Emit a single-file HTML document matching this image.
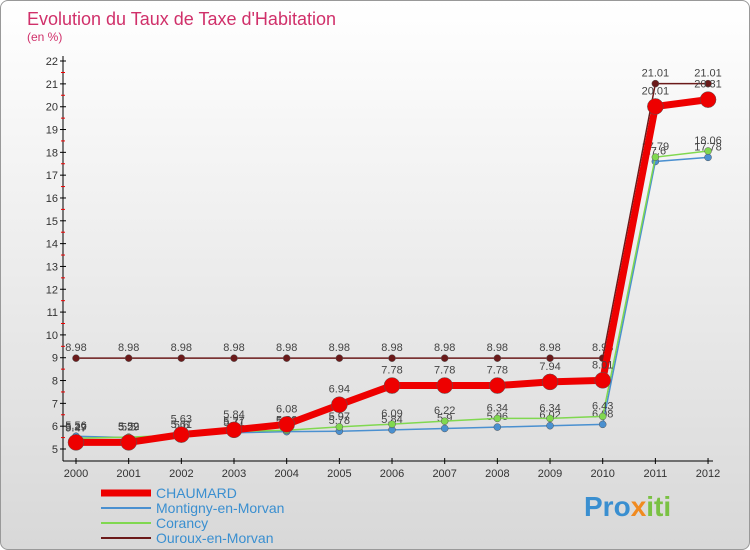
<!DOCTYPE html>
<html><head><meta charset="utf-8"><style>
body{margin:0;width:750px;height:550px;overflow:hidden;font-family:"Liberation Sans",sans-serif}
#wrap{position:absolute;left:0;top:0;width:748px;height:548px;border:1px solid #999;border-radius:8px;background:linear-gradient(#fff,#d8d8d8);overflow:hidden}
</style></head><body>
<div id="wrap">
<svg id="chart" width="750" height="550" style="position:absolute;left:0;top:0">
<text x="26" y="24" font-size="18" fill="#d0306a">Evolution du Taux de Taxe d'Habitation</text>
<text x="26" y="40" font-size="12" fill="#d0306a">(en %)</text>
<g id="axes"></g><g id="series"></g><g id="legend"></g>
<text x="583" y="515" font-size="28" font-weight="bold" fill="#3a8fd0">Pro<tspan fill="#f08a20">x</tspan><tspan fill="#7ac143">iti</tspan></text>
</svg></div>
<script>
const years=[2000,2001,2002,2003,2004,2005,2006,2007,2008,2009,2010,2011,2012];
const yTicks=[5,6,7,8,9,10,11,12,13,14,15,16,17,18,19,20,21,22];
const chaumard=[5.29,5.29,5.63,5.84,6.08,6.94,7.78,7.78,7.78,7.94,8.01,20.01,20.31];
const montigny=[5.56,5.50,5.60,5.71,5.76,5.78,5.84,5.90,5.96,6.02,6.08,17.60,17.78];
const corancy=[5.47,5.52,5.61,5.77,5.82,5.97,6.09,6.22,6.34,6.34,6.43,17.79,18.06];
const ouroux=[8.98,8.98,8.98,8.98,8.98,8.98,8.98,8.98,8.98,8.98,8.98,21.01,21.01];
const names=["CHAUMARD","Montigny-en-Morvan","Corancy","Ouroux-en-Morvan"];
const NS="http://www.w3.org/2000/svg";
const xS=i=>75+i*52.67, yS=v=>448-(v-5)*22.82;
function mk(p,t,a){const e=document.createElementNS(NS,t);for(const k in a)e.setAttribute(k,a[k]);p.appendChild(e);return e;}
const axes=document.getElementById('axes');
let e=mk(axes,'line',{x1:62,y1:55,x2:62,y2:460,stroke:'#000'});


e=mk(axes,'line',{x1:62,y1:460,x2:712,y2:460,stroke:'#000'});


yTicks.forEach(v=>{
 mk(axes,'line',{x1:59,x2:65,y1:yS(v),y2:yS(v),stroke:'#000'});
 if(v<22) mk(axes,'line',{x1:60,x2:64,y1:yS(v+0.5),y2:yS(v+0.5),stroke:'#e00'});
 const t=mk(axes,'text',{x:57,y:yS(v)+4,'font-size':11,'text-anchor':'end',fill:'#333'});
 t.textContent=v;
 
 
});
years.forEach((y,i)=>{
 mk(axes,'line',{x1:xS(i),x2:xS(i),y1:457,y2:463,stroke:'#000'});
 const t=mk(axes,'text',{x:xS(i),y:476,'font-size':11,'text-anchor':'middle',fill:'#333'});
 t.textContent=y;
 
 
});
const sg=document.getElementById('series');
const defs=[[ouroux,'#6b1a1a',1.5,3.5,'ouroux'],[montigny,'#4a90d0',1.5,3.5,'montigny'],[corancy,'#80d850',1.5,3.5,'corancy'],[chaumard,'#ee0000',7,8,'chaumard']];
defs.forEach(([d,c,w,r,n])=>{
 const g=mk(sg,'g',{});
 
 
 const l=mk(g,'polyline',{points:d.map((v,i)=>xS(i)+','+yS(v)).join(' '),fill:'none',stroke:c,'stroke-width':w});
 
 
 d.forEach((v,i)=>{
  const p=mk(g,'circle',{cx:xS(i),cy:yS(v),r:r,fill:c,stroke:'#555','stroke-width':0.5});
  
  
  const t=mk(g,'text',{x:xS(i),y:yS(v)-(n=='chaumard'?12:7),'font-size':11,'text-anchor':'middle',fill:'#444'});
  t.textContent=v.toFixed(2).replace(/0$/,'');
  
  
 });
});
const lg=document.getElementById('legend');
const lc=['#ee0000','#4a90d0','#80d850','#6b1a1a'],lw=[7,2,2,2];
names.forEach((nm,i)=>{
 const g=mk(lg,'g',{});
 
 
 mk(g,'line',{x1:100,x2:150,y1:492+i*15,y2:492+i*15,stroke:lc[i],'stroke-width':lw[i]});
 const t=mk(g,'text',{x:155,y:497+i*15,'font-size':14,fill:'#3a8fd0'});
 t.textContent=nm;
});
</script>
</body></html>
